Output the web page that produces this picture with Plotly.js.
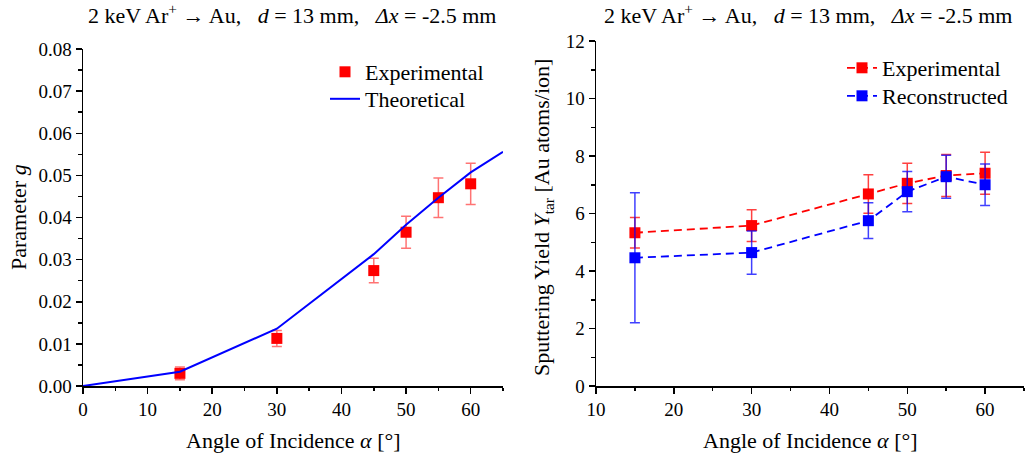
<!DOCTYPE html>
<html>
<head>
<meta charset="utf-8">
<script src="https://cdn.plot.ly/plotly-3.0.1.min.js"></script>
<style>html,body{margin:0;padding:0;background:#fff;}#chart{width:1028px;height:459px;}</style>
</head>
<body>
<div id="chart"></div>
<script>
// ---- Left panel: parameter g ----
const gAngles = [15, 30, 45, 50, 55, 60];
const gExp = [0.0030, 0.0113, 0.0274, 0.0365, 0.0447, 0.0480];
const gExpErr = [0.0015, 0.0019, 0.0029, 0.0038, 0.0047, 0.0049];
const thAngles = [0, 15, 30, 45, 50, 55, 60, 65];
const thG = [0, 0.0034, 0.0136, 0.0313, 0.0383, 0.0447, 0.0507, 0.0556];

// ---- Right panel: sputtering yield ----
const yAngles = [15, 30, 45, 50, 55, 60];
const yExp = [5.33, 5.58, 6.68, 7.05, 7.32, 7.40];
const yExpErr = [0.53, 0.55, 0.67, 0.70, 0.73, 0.73];
const yRec = [4.46, 4.64, 5.75, 6.76, 7.28, 7.00];
const yRecErr = [2.26, 0.75, 0.62, 0.70, 0.75, 0.72];

const SP = '\u00A0\u00A0\u00A0';
const titleText = '2 keV Ar<sup>+</sup> \u2192 Au,' + SP + '<i>d</i> = 13 mm,' + SP + '<i>\u0394x</i> = -2.5 mm';
const xTitleText = 'Angle of Incidence <i>\u03B1</i> [\u00B0]';

const FONT = 'Liberation Serif';
const RED = '#ff0000', BLUE = '#0000ff';

const traces = [
  {x: gAngles, y: gExp, type: 'scatter', mode: 'markers', name: 'Experimental',
   xaxis: 'x', yaxis: 'y', legend: 'legend',
   marker: {symbol: 'square', size: 11, color: RED},
   error_y: {type: 'data', array: gExpErr, visible: true, color: 'rgba(255,0,0,0.55)', thickness: 1.5, width: 5}},
  {x: thAngles, y: thG, type: 'scatter', mode: 'lines', name: 'Theoretical',
   xaxis: 'x', yaxis: 'y', legend: 'legend3',
   line: {color: BLUE, width: 2}},
  {x: yAngles, y: yExp, type: 'scatter', mode: 'lines+markers', name: 'Experimental',
   xaxis: 'x2', yaxis: 'y2', legend: 'legend2',
   line: {color: RED, width: 1.8, dash: '8px,5px'},
   marker: {symbol: 'square', size: 11, color: RED},
   error_y: {type: 'data', array: yExpErr, visible: true, color: 'rgba(255,0,0,0.75)', thickness: 1.5, width: 5}},
  {x: yAngles, y: yRec, type: 'scatter', mode: 'lines+markers', name: 'Reconstructed',
   xaxis: 'x2', yaxis: 'y2', legend: 'legend4',
   line: {color: BLUE, width: 1.8, dash: '8px,5px'},
   marker: {symbol: 'square', size: 11, color: BLUE},
   error_y: {type: 'data', array: yRecErr, visible: true, color: 'rgba(0,0,255,0.75)', thickness: 1.5, width: 5}}
];

const H = 459, W = 1028;
const px = v => v / W;
const py = v => 1 - v / H;
const Ldom = [px(83), px(503)];
const Rdom = [px(596), px(1024)];
const LY = [py(386), py(49)];
const RY = [py(386), py(41)];

const tickFont = {family: FONT, size: 19, color: '#000'};
const baseAx = {
  showgrid: false, zeroline: false, showline: true, linecolor: '#000', linewidth: 1.5,
  ticks: 'outside', ticklen: 6, tickwidth: 1.5, tickcolor: '#000',
  tickfont: tickFont, fixedrange: true
};
const mirrorAx = {
  showgrid: false, zeroline: false, showline: true, linecolor: '#000', linewidth: 1.5,
  ticks: 'inside', ticklen: 6, tickwidth: 1.5, tickcolor: '#000',
  showticklabels: false, fixedrange: true
};
const minorOut = d => ({dtick: d, ticks: 'outside', ticklen: 3.5, tickwidth: 1.5, tickcolor: '#000', showgrid: false});
const minorIn = d => ({dtick: d, ticks: 'inside', ticklen: 3.5, tickwidth: 1.5, tickcolor: '#000', showgrid: false});
const legFont = {family: FONT, size: 22, color: '#000'};
const mkLeg = (x, y) => ({visible: true, x: px(x), y: py(y), xanchor: 'left', yanchor: 'top', bgcolor: 'rgba(0,0,0,0)',
                          font: legFont, tracegroupgap: 0, itemwidth: 30});

const layout = {
  width: W, height: H,
  showlegend: true,
  margin: {l: 0, r: 0, t: 0, b: 0},
  paper_bgcolor: '#fff', plot_bgcolor: 'rgba(0,0,0,0)',
  font: {family: FONT, color: '#000'},
  xaxis: Object.assign({}, baseAx, {domain: Ldom, anchor: 'y', range: [0, 65], tick0: 0, dtick: 10, minor: minorOut(5)}),
  yaxis: Object.assign({}, baseAx, {domain: LY, anchor: 'x', range: [0, 0.08], tick0: 0, dtick: 0.01, tickformat: '.2f', minor: minorOut(0.005)}),
  xaxis3: Object.assign({}, mirrorAx, {overlaying: 'x', anchor: 'y', side: 'top', range: [0, 65], tick0: 0, dtick: 10, minor: minorIn(5)}),
  yaxis3: Object.assign({}, mirrorAx, {overlaying: 'y', anchor: 'x', side: 'right', range: [0, 0.08], tick0: 0, dtick: 0.01, minor: minorIn(0.005)}),
  xaxis2: Object.assign({}, baseAx, {domain: Rdom, anchor: 'y2', range: [10, 65], tick0: 0, dtick: 10, minor: minorOut(5)}),
  yaxis2: Object.assign({}, baseAx, {domain: RY, anchor: 'x2', range: [0, 12], tick0: 0, dtick: 2, minor: minorOut(1)}),
  xaxis4: Object.assign({}, mirrorAx, {overlaying: 'x2', anchor: 'y2', side: 'top', range: [10, 65], tick0: 0, dtick: 10, minor: minorIn(5)}),
  yaxis4: Object.assign({}, mirrorAx, {overlaying: 'y2', anchor: 'x2', side: 'right', range: [0, 12], tick0: 0, dtick: 2, minor: minorIn(1)}),
  legend: mkLeg(325, 51),
  legend3: mkLeg(325, 78),
  legend2: mkLeg(842, 47),
  legend4: mkLeg(842, 75),
  annotations: [
    {text: titleText, xref: 'paper', yref: 'paper', x: px(292), y: py(14), xanchor: 'center', yanchor: 'middle', showarrow: false, font: {family: FONT, size: 22}},
    {text: titleText, xref: 'paper', yref: 'paper', x: px(808), y: py(14), xanchor: 'center', yanchor: 'middle', showarrow: false, font: {family: FONT, size: 22}},
    {text: xTitleText, xref: 'paper', yref: 'paper', x: px(293), y: py(440), xanchor: 'center', yanchor: 'middle', showarrow: false, font: {family: FONT, size: 22}},
    {text: xTitleText, xref: 'paper', yref: 'paper', x: px(810), y: py(440), xanchor: 'center', yanchor: 'middle', showarrow: false, font: {family: FONT, size: 22}},
    {text: 'Parameter <i>g</i>', xref: 'paper', yref: 'paper', x: px(18), y: py(217), xanchor: 'center', yanchor: 'middle', textangle: -90, showarrow: false, font: {family: FONT, size: 22}},
    {text: 'Sputtering Yield <i>Y</i><sub>tar</sub> [Au atoms/ion]', xref: 'paper', yref: 'paper', x: px(543), y: py(218), xanchor: 'center', yanchor: 'middle', textangle: -90, showarrow: false, font: {family: FONT, size: 22}}
  ]
};

Plotly.newPlot('chart', traces, layout, {staticPlot: true, displayModeBar: false});
</script>
</body>
</html>
